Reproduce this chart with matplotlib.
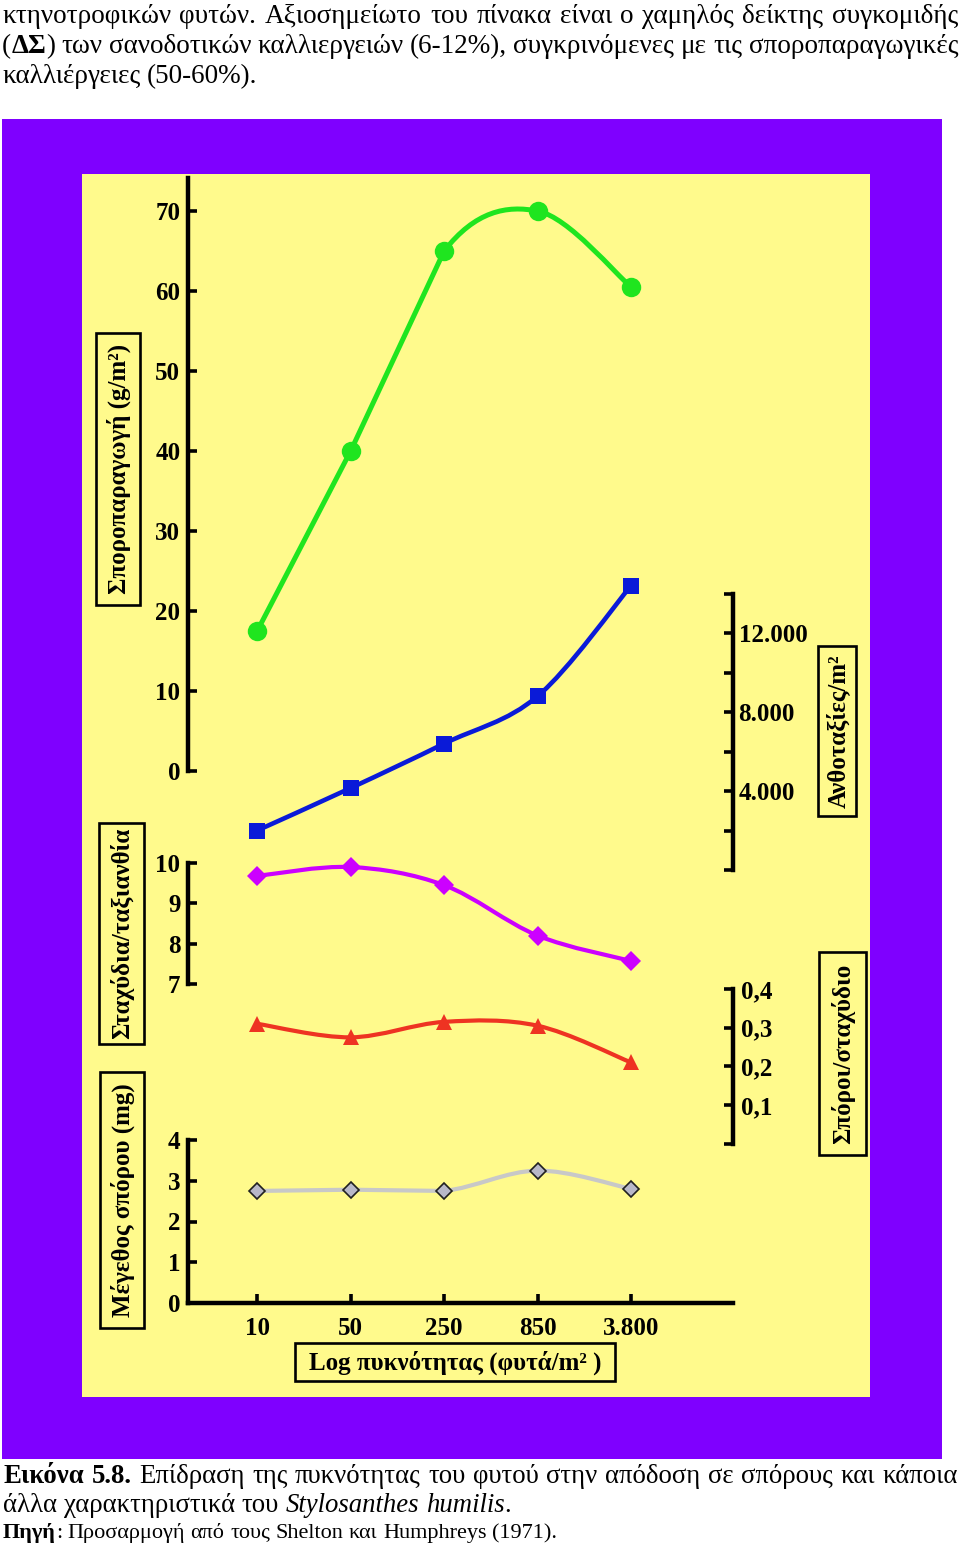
import numpy as np
import matplotlib
matplotlib.use('Agg')
import matplotlib.pyplot as plt
from matplotlib.path import Path
from matplotlib.patches import PathPatch, Rectangle
from matplotlib.ticker import FixedLocator, FixedFormatter

# ---------------- data ----------------
density_labels = ['10', '50', '250', '850', '3.800']
density_pos = [0, 1, 2, 3, 4]
spore_yield = [17.5, 40.0, 65.0, 70.0, 60.5]            # g/m2
inflorescences = [2000, 4150, 6400, 8800, 14400]        # per m2
spikelets = [9.68, 9.90, 9.45, 8.20, 7.57]              # per inflorescence
seeds_per_spikelet = [0.31, 0.275, 0.315, 0.305, 0.21]
seed_size = [2.75, 2.78, 2.75, 3.25, 2.80]              # mg

yield_ticks = [0, 10, 20, 30, 40, 50, 60, 70]
yield_ticklabels = ['0', '10', '20', '30', '40', '50', '60', '70']
infl_ticks = [0, 2000, 4000, 6000, 8000, 10000, 12000, 14000]
infl_ticklabels = ['', '', '4.000', '', '8.000', '', '12.000', '']
spike_ticks = [7, 8, 9, 10]
spike_ticklabels = ['7', '8', '9', '10']
seedsp_ticks = [0, 0.1, 0.2, 0.3, 0.4]
seedsp_ticklabels = ['', '0,1', '0,2', '0,3', '0,4']
size_ticks = [0, 1, 2, 3, 4]
size_ticklabels = ['0', '1', '2', '3', '4']

label_yield = 'Σποροπαραγωγή (g/m²)'
label_spike = 'Σταχύδια/ταξιανθία'
label_size = 'Μέγεθος σπόρου (mg)'
label_infl = 'Ανθοταξίες/m²'
label_seedsp = 'Σπόροι/σταχύδιο'
label_x = 'Log πυκνότητας (φυτά/m² )'

N = ('normal', 'normal')
B = ('bold', 'normal')
I = ('normal', 'italic')
top_lines = [
    [('κτηνοτροφικών', N, False), ('φυτών.', N, False), ('Αξιοσημείωτο', N, False),
     ('του', N, False), ('πίνακα', N, False), ('είναι', N, False), ('ο', N, False),
     ('χαμηλός', N, False), ('δείκτης', N, False), ('συγκομιδής', N, False)],
    [('(', N, False), ('ΔΣ', B, True), (')', N, True), ('των', N, False),
     ('σανοδοτικών', N, False), ('καλλιεργειών', N, False), ('(6-12%),', N, False),
     ('συγκρινόμενες', N, False), ('με', N, False), ('τις', N, False),
     ('σποροπαραγωγικές', N, False)],
    [('καλλιέργειες', N, False), ('(50-60%).', N, False)],
]
caption_lines = [
    [('Εικόνα', B, False), ('5.8.', B, False), ('Επίδραση', N, False), ('της', N, False),
     ('πυκνότητας', N, False), ('του', N, False), ('φυτού', N, False), ('στην', N, False),
     ('απόδοση', N, False), ('σε', N, False), ('σπόρους', N, False), ('και', N, False),
     ('κάποια', N, False)],
    [('άλλα', N, False), ('χαρακτηριστικά', N, False), ('του', N, False),
     ('Stylosanthes', I, False), ('humilis', I, False), ('.', N, True)],
    [('Πηγή', B, False), (':', N, True), ('Προσαρμογή', N, False), ('από', N, False),
     ('τους', N, False), ('Shelton', N, False), ('και', N, False), ('Humphreys', N, False),
     ('(1971).', N, False)],
]

# ---------------- figure ----------------
W, H = 960, 1547
plt.rcParams['font.family'] = ['Liberation Serif', 'DejaVu Serif']
plt.rcParams['font.weight'] = 'bold'
fig = plt.figure(figsize=(W / 100, H / 100), dpi=100)
fig.patch.set_facecolor('white')

TICK_FS = 18
LABEL_FS = 18


def fx(x):
    return x / W


def fy(y):
    return 1 - y / H


def frect(x0, y0, x1, y1, **kw):
    r = Rectangle((fx(x0), fy(y1)), (x1 - x0) / W, (y1 - y0) / H,
                  transform=fig.transFigure, **kw)
    fig.add_artist(r)
    return r


frect(2, 119, 942, 1459, fc='#7F00FF', ec='none', zorder=-3)
frect(82, 174, 870, 1397, fc='#FFFA8C', ec='none', zorder=-2)

AX_L, AX_R, AX_T, AX_B = 188, 733, 175, 1303
rect = [fx(AX_L), fy(AX_B), (AX_R - AX_L) / W, (AX_B - AX_T) / H]
XLIM = (-0.74, 5.09)


def ylim_from(v1, p1, v2, p2):
    s = (p1 - p2) / (v2 - v1)
    return (v1 - (AX_B - p1) / s, v1 + (p1 - AX_T) / s)


def new_axes(ylim):
    ax = fig.add_axes(rect)
    ax.set_xlim(*XLIM)
    ax.set_ylim(*ylim)
    ax.patch.set_visible(False)
    for s in ax.spines.values():
        s.set_visible(False)
        s.set_linewidth(3.2)
    ax.set_xticks([])
    return ax


def setup_y(ax, side, ticks, labels, bounds, pad):
    sp = ax.spines[side]
    sp.set_visible(True)
    sp.set_bounds(*bounds)
    ax.yaxis.set_major_locator(FixedLocator(ticks))
    ax.yaxis.set_major_formatter(FixedFormatter(labels))
    if side == 'left':
        ax.tick_params(axis='y', left=True, right=False, labelleft=True, labelright=False)
    else:
        ax.yaxis.tick_right()
        ax.tick_params(axis='y', left=False, right=True, labelleft=False, labelright=True)
    ax.tick_params(axis='y', direction='in', length=6.5, width=2.6, labelsize=TICK_FS, pad=pad)


def smooth_path(xs, ys, straight=()):
    pts = np.column_stack([xs, ys]).astype(float)
    n = len(pts)
    verts = [pts[0]]
    codes = [Path.MOVETO]
    for i in range(n - 1):
        p1 = pts[i]
        p2 = pts[i + 1]
        if i in straight:
            verts.append(p2)
            codes.append(Path.LINETO)
            continue
        p0 = pts[i - 1] if i > 0 else pts[i]
        p3 = pts[i + 2] if i + 2 < n else pts[i + 1]
        c1 = p1 + (p2 - p0) / 6.0
        c2 = p2 - (p3 - p1) / 6.0
        verts += [c1, c2, p2]
        codes += [Path.CURVE4] * 3
    return Path(verts, codes)


def series(ax, ys, color, lw, marker, ms, mfc=None, mec=None, mew=0, straight=()):
    ax.add_patch(PathPatch(smooth_path(density_pos, ys, straight), fill=False, ec=color,
                           lw=lw, capstyle='round', joinstyle='round', zorder=2))
    ax.plot(density_pos, ys, linestyle='none', marker=marker, ms=ms,
            mfc=mfc or color, mec=mec or (mfc or color), mew=mew, zorder=3, clip_on=False)


# A: spore yield
axA = new_axes(ylim_from(0, 771, 70, 211))
setup_y(axA, 'left', yield_ticks, yield_ticklabels, (0, 74.1), 5.5)
series(axA, spore_yield, '#1FE51F', 3.6, 'o', 14, straight=(0, 1))

# B: inflorescences
axB = new_axes(ylim_from(4000, 791, 12000, 633))
setup_y(axB, 'right', infl_ticks, infl_ticklabels, (0, 14000), 4.0)
series(axB, inflorescences, '#0A1AD8', 3.3, 's', 11)

# C: spikelets per inflorescence
axC = new_axes(ylim_from(7, 984, 10, 863))
setup_y(axC, 'left', spike_ticks, spike_ticklabels, (7, 10), 5.5)
series(axC, spikelets, '#CC00FF', 3.0, 'D', 10)

# D: seeds per spikelet
axD = new_axes(ylim_from(0.1, 1105, 0.4, 989))
setup_y(axD, 'right', seedsp_ticks, seedsp_ticklabels, (0, 0.4), 6)
series(axD, seeds_per_spikelet, '#EE3322', 3.0, '^', 11.5)

# E: seed size + x axis
axE = new_axes(ylim_from(0, 1303, 4, 1140))
setup_y(axE, 'left', size_ticks, size_ticklabels, (0, 4), 5.5)
axE.spines['bottom'].set_visible(True)
axE.set_xticks(density_pos)
axE.set_xticklabels(density_labels)
axE.tick_params(axis='x', direction='in', length=6.5, width=2.6, labelsize=TICK_FS, pad=10)
series(axE, seed_size, '#C8C8C8', 3.0, 'D', 8.0, mfc='#B8B8C8', mec='#202020', mew=1.2,
       straight=(0, 1))

# ---------------- label boxes ----------------
boxes = [
    (96, 333, 140, 605, label_yield, 90),
    (99, 823, 144, 1044, label_spike, 90),
    (100, 1072, 144, 1328, label_size, 90),
    (818, 646, 856, 816, label_infl, 90),
    (819, 952, 866, 1155, label_seedsp, 90),
    (295, 1343, 615, 1381, label_x, 0),
]
for x0, y0, x1, y1, txt, rot in boxes:
    frect(x0, y0, x1, y1, fc='none', ec='black', lw=1.9, zorder=5)
    fig.text(fx((x0 + x1) / 2 + (1 if rot else 0)), fy((y0 + y1) / 2 + (0 if rot else 1)),
             txt, rotation=rot, ha='center', va='center', fontsize=LABEL_FS,
             fontweight='bold', zorder=6, rotation_mode='anchor')

# ---------------- running text ----------------
renderer = fig.canvas.get_renderer()


def draw_line(tokens, x0, yb, size, right=None):
    arts = []
    widths = []
    for txt, (wt, st), att in tokens:
        t = fig.text(fx(x0), fy(yb), txt, fontsize=size, fontweight=wt, fontstyle=st,
                     ha='left', va='baseline', color='black')
        widths.append(t.get_window_extent(renderer).width)
        arts.append(t)
    space = size * 100 / 72 * 0.25
    ngaps = sum(1 for i, tk in enumerate(tokens) if i > 0 and not tk[2])
    if right is not None and ngaps > 0:
        space = (right - x0 - sum(widths)) / ngaps
    x = x0
    for i, (t, w, tk) in enumerate(zip(arts, widths, tokens)):
        if i > 0 and not tk[2]:
            x += space
        t.set_x(fx(x))
        x += w


draw_line(top_lines[0], 2, 23, 19.5, right=958)
draw_line(top_lines[1], 2, 53, 19.5, right=958)
draw_line(top_lines[2], 2, 83, 19.5)

draw_line(caption_lines[0], 3, 1483, 19.3, right=958)
draw_line(caption_lines[1], 3, 1512, 19.3)
draw_line(caption_lines[2], 3, 1538, 16)

fig.savefig('out.png', dpi=100, facecolor='white')
